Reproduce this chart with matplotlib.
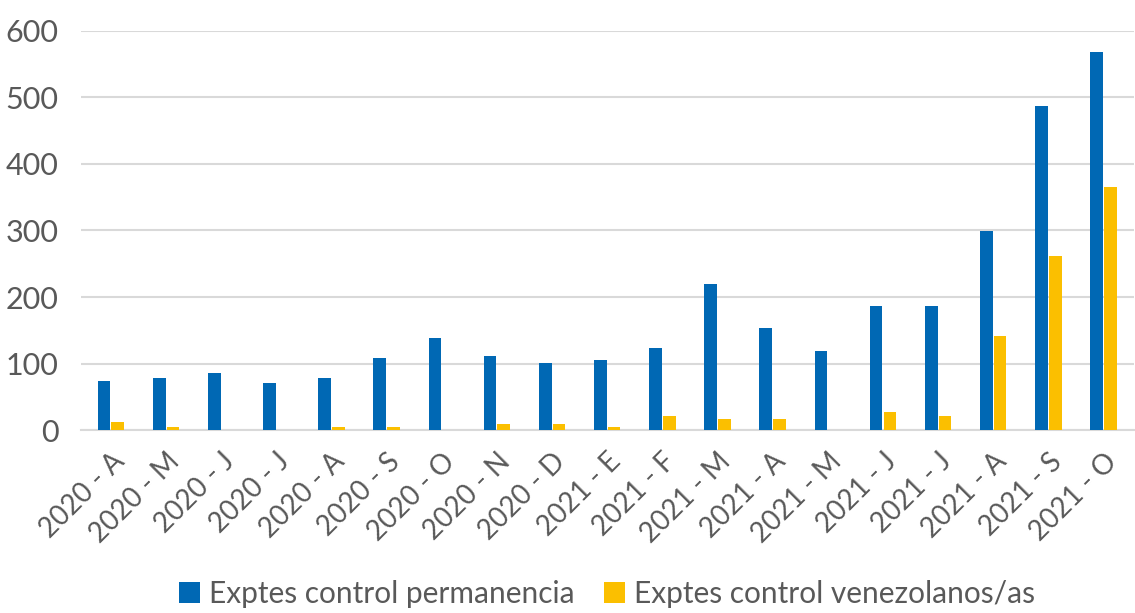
import matplotlib
matplotlib.use("Agg")
import matplotlib.pyplot as plt
import numpy as np

plt.rcParams['font.family'] = ['Lato', 'DejaVu Sans']

months = ["2020 - A", "2020 - M", "2020 - J", "2020 - J", "2020 - A", "2020 - S",
          "2020 - O", "2020 - N", "2020 - D", "2021 - E", "2021 - F", "2021 - M",
          "2021 - A", "2021 - M", "2021 - J", "2021 - J", "2021 - A", "2021 - S",
          "2021 - O"]
permanencia = [74, 78, 86, 71, 78, 108, 138, 111, 101, 105, 123, 220, 153, 119,
               186, 186, 299, 487, 568]
venezolanos = [13, 5, 1, 1, 5, 5, 1, 9, 9, 5, 21, 17, 17, 0, 28, 21, 141, 261, 366]

BLUE = "#0068B4"
YELLOW = "#FBBF00"
GREY = "#595959"

fig, ax = plt.subplots(figsize=(11.35, 6.13), dpi=100)
fig.subplots_adjust(left=0.071, right=0.999, top=0.95, bottom=0.298)

x = np.arange(len(months))
w = 0.23
ax.bar(x - 0.125, permanencia, w, color=BLUE, label="Exptes control permanencia", zorder=3)
ax.bar(x + 0.125, venezolanos, w, color=YELLOW, label="Exptes control venezolanos/as", zorder=3)

ax.set_xlim(-0.55, len(months) - 0.45)
ax.set_ylim(0, 600)
ax.set_yticks(range(0, 601, 100))
ax.yaxis.grid(True, color="#D9D9D9", lw=1.5, zorder=0)
for s in ["top", "right", "left"]:
    ax.spines[s].set_visible(False)
ax.spines["bottom"].set_color("#D9D9D9")
ax.spines["bottom"].set_linewidth(1.5)
ax.tick_params(axis="both", length=0, colors=GREY)
ax.tick_params(axis="y", pad=16, labelsize=22)
ax.tick_params(axis="x", pad=13, labelsize=20)
ax.set_xticks(x)
ax.set_xticklabels(months, rotation=45, ha="right", rotation_mode="anchor")

ax.legend(loc="lower center", bbox_to_anchor=(0.5, -0.512), ncol=2, frameon=False,
          fontsize=21.5, labelcolor=GREY, handlelength=0.7, handleheight=0.7,
          handletextpad=0.3, columnspacing=1.0)

fig.savefig("out.png", dpi=100)
